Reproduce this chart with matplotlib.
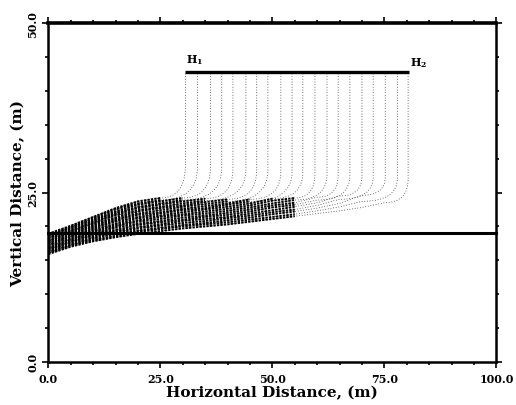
import matplotlib
matplotlib.use("Agg")
import matplotlib.pyplot as plt
from matplotlib.path import Path
from matplotlib.patches import PathPatch
from matplotlib.ticker import MultipleLocator

# release points along the H1-H2 line
start_x = [30.6, 33.3, 36.2, 38.7, 41.2, 44.1, 46.5, 49.0, 51.9, 54.4,
           56.8, 59.5, 62.2, 64.7, 67.3, 70.0, 72.5, 75.2, 77.9, 80.3]
release_y = 42.6
# height where each path stops falling straight down
knee_y = [29.0, 28.8, 28.8, 28.6, 28.5, 28.4, 28.3, 28.3, 28.1, 28.0,
          28.0, 27.8, 27.7, 27.7, 27.5, 27.4, 27.3, 27.3, 27.1, 27.0]

# y of each path at station_x (from x = 0 outwards)
station_x = [0, 5, 10, 15, 20, 25, 30, 35, 40, 45, 50, 55, 60, 65, 70, 75]
lanes = [
    [18.9, 20.1, 21.4, 22.7, 23.7, 24.2],
    [18.7, 19.9, 21.2, 22.5, 23.4, 23.9],
    [18.6, 19.8, 21.0, 22.2, 23.2, 23.7, 24.2],
    [18.4, 19.6, 20.8, 22.0, 22.9, 23.4, 23.9],
    [18.3, 19.4, 20.6, 21.8, 22.7, 23.2, 23.7, 24.1],
    [18.1, 19.3, 20.5, 21.6, 22.4, 22.9, 23.4, 23.8],
    [17.9, 19.1, 20.3, 21.3, 22.2, 22.7, 23.1, 23.6, 24.0],
    [17.8, 19.0, 20.1, 21.1, 21.9, 22.4, 22.9, 23.3, 23.7],
    [17.6, 18.8, 19.9, 20.9, 21.7, 22.1, 22.6, 23.0, 23.4, 24.0],
    [17.5, 18.6, 19.7, 20.7, 21.4, 21.9, 22.4, 22.7, 23.2, 23.7],
    [17.3, 18.5, 19.5, 20.4, 21.2, 21.6, 22.1, 22.5, 22.9, 23.4, 24.1],
    [17.2, 18.3, 19.3, 20.2, 20.9, 21.4, 21.8, 22.2, 22.6, 23.1, 23.8, 24.2],
    [17.0, 18.1, 19.1, 20.0, 20.7, 21.1, 21.6, 21.9, 22.3, 22.8, 23.4, 23.9],
    [16.8, 18.0, 18.9, 19.8, 20.4, 20.8, 21.3, 21.6, 22.0, 22.5, 23.1, 23.5, 24.3],
    [16.7, 17.8, 18.8, 19.5, 20.2, 20.6, 21.0, 21.4, 21.7, 22.2, 22.8, 23.2, 23.9],
    [16.5, 17.7, 18.6, 19.3, 19.9, 20.3, 20.8, 21.1, 21.4, 21.9, 22.4, 22.9, 23.5, 24.5],
    [16.4, 17.5, 18.4, 19.1, 19.7, 20.1, 20.5, 20.8, 21.2, 21.6, 22.1, 22.5, 23.1, 24.0],
    [16.2, 17.3, 18.2, 18.9, 19.4, 19.8, 20.2, 20.5, 20.9, 21.3, 21.8, 22.2, 22.7, 23.4, 24.6],
    [16.1, 17.2, 18.0, 18.6, 19.2, 19.6, 20.0, 20.3, 20.6, 21.0, 21.4, 21.8, 22.3, 22.9, 23.7],
    [15.9, 17.0, 17.8, 18.4, 18.9, 19.3, 19.7, 20.0, 20.3, 20.7, 21.1, 21.5, 21.9, 22.3, 22.8, 23.5],
]
# particles pile up near the outlet: dense for the first stations, sparse beyond
crowded = 12

# boundaries
source_x = [30.4, 80.5]
source_y = 42.9
floor_x = [0, 100]
floor_y = 19.0

serif = "DejaVu Serif"
plt.rcParams["mathtext.fontset"] = "dejavuserif"

fig = plt.figure(figsize=(5.16, 4.06), dpi=100)
ax = fig.add_axes([0.0936, 0.1067, 0.8684, 0.833])
ax.set_xlim(0, 100)
ax.set_ylim(0, 50)

# particle paths: straight fall, bend, then along the lane to x = 0
for x0, yk, lane in zip(start_x, knee_y, lanes):
    n = len(lane)
    verts = [(x0, release_y), (x0, yk), (x0, lane[-1]), (station_x[n - 1], lane[-1])]
    codes = [Path.MOVETO, Path.LINETO, Path.CURVE3, Path.CURVE3]
    for i in range(n - 2, -1, -1):
        verts.append((station_x[i], lane[i]))
        codes.append(Path.LINETO)
    ax.add_patch(PathPatch(Path(verts, codes), fill=False, ec="0.25",
                           lw=0.6, ls=(0, (1, 2.2))))
    m = min(n, crowded)
    ax.plot(station_x[:m], lane[:m], color="k", lw=1.4, ls=(0, (1.2, 0.6)))

ax.plot(source_x, [source_y, source_y], color="k", lw=2.4, solid_capstyle="butt")
ax.plot(floor_x, [floor_y, floor_y], color="k", lw=2.2, clip_on=False)

ax.text(source_x[0] + 0.3, source_y + 0.8, r"$\mathbf{H_1}$", fontsize=8, ha="left", va="bottom")
ax.text(source_x[1] + 0.3, source_y + 0.4, r"$\mathbf{H_2}$", fontsize=8, ha="left", va="bottom")

# axes styling
for side in ["left", "bottom", "right"]:
    ax.spines[side].set_linewidth(1.8)
ax.spines["top"].set_linewidth(2.6)

ax.xaxis.set_major_locator(MultipleLocator(25))
ax.xaxis.set_minor_locator(MultipleLocator(5))
ax.yaxis.set_major_locator(MultipleLocator(25))
ax.yaxis.set_minor_locator(MultipleLocator(5))
ax.tick_params(which="both", direction="out", top=True, right=True, width=1.2)
ax.tick_params(which="major", length=4)
ax.tick_params(which="minor", length=2.5)
ax.tick_params(axis="x", pad=4)
ax.tick_params(axis="y", pad=3)

ax.set_xticks([0, 25, 50, 75, 100])
ax.set_xticklabels(["0.0", "25.0", "50.0", "75.0", "100.0"],
                   fontsize=8, fontweight="bold", family=serif)
ax.set_yticks([0, 25, 50])
ax.set_yticklabels(["0.0", "25.0", "50.0"], fontsize=8, fontweight="bold",
                   family=serif, rotation=90, va="center")

ax.set_xlabel("Horizontal Distance, (m)", fontsize=11, fontweight="bold",
              family=serif, labelpad=1)
ax.set_ylabel("Vertical Distance, (m)", fontsize=11, fontweight="bold",
              family=serif, labelpad=2)

fig.savefig("out.png", dpi=100)
